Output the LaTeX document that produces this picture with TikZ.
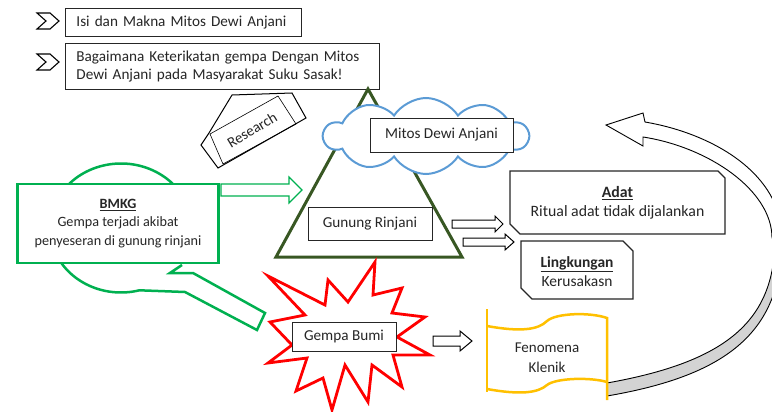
\documentclass[tikz,border=0pt]{standalone}
\usepackage{fontspec}
\setmainfont{Carlito}
\usetikzlibrary{shapes.symbols,calc}
\definecolor{bgreen}{HTML}{00B050}
\definecolor{mgreen}{HTML}{385723}
\definecolor{cblue}{HTML}{5B9BD5}
\definecolor{gold}{HTML}{FFC000}
\definecolor{bandgray}{HTML}{D3D3D3}
\definecolor{ink}{HTML}{262626}
\tikzset{
  pics/barrow/.style args={#1/#2/#3/#4}{code={\draw[pic actions] (0,-#2) -- (#1,-#2) -- (#1,-#4) -- ({#1+#3},0) -- (#1,#4) -- (#1,#2) -- (0,#2) -- cycle;}},
}
\begin{document}
\begin{tikzpicture}[x=1pt,y=-1pt,font=\fontsize{15.2}{17.5}\selectfont, text=ink,
  tbox/.style={draw=black!85, line width=0.9pt, fill=white, inner sep=0pt, align=center},
  chev/.style={draw=black, line width=1.1pt, fill=white, line join=miter},
  sbox/.style={draw=black!85, line width=1.3pt, fill=white, line join=miter},
  gline/.style={draw=gold, line width=2.5pt},
  barr/.style={draw=black, line width=1pt, fill=white, line join=miter},
]
\useasboundingbox (0,0) rectangle (772,412);
\clip (0,0) rectangle (772,412);

% chevrons
\draw[chev] (37,13) -- (50,13) -- (59,21) -- (50,29) -- (37,29) -- (46,21) -- cycle;
\draw[chev] (37,54) -- (50,54) -- (59,62) -- (50,70) -- (37,70) -- (46,62) -- cycle;

\node[tbox, anchor=north west, minimum width=236, minimum height=28, text width=214, align=left, inner xsep=11pt] (isi) at (65,8) {Isi dan Makna Mitos Dewi Anjani};
\node[tbox, anchor=north west, minimum width=314, minimum height=46, text width=292, align=left, inner xsep=11pt] (tanya) at (65,43) {Bagaimana Keterikatan gempa Dengan Mitos\\Dewi Anjani pada Masyarakat Suku Sasak!};

% research plaque
\draw[black, line width=1pt, line join=miter] (232,95) -- (292,93) -- (306,118) -- (218,168) -- (201,145) -- (209,133) -- cycle;
\draw[black, line width=0.6pt] (210,134) -- (278,96) -- (296,124) -- (223,164) -- cycle;
\node[rotate=31, inner sep=0pt, font=\fontsize{15}{16}\selectfont] (research) at (252,130) {Research};

% mountain
\draw[mgreen, line width=3pt, line join=miter] (368,89) -- (462,257) -- (276,257) -- cycle;
\node[cloud, draw=cblue, line width=2pt, fill=white, cloud puffs=10, cloud puff arc=115, aspect=2.8, minimum width=204, minimum height=76] (cloud) at (426,136) {};
\node[tbox, minimum width=143, minimum height=34] (mitos) at (441.5,135) {Mitos Dewi Anjani};
\node[tbox, minimum width=124, minimum height=33] (gunung) at (370,223.5) {Gunung Rinjani};

% magnifier
\draw[bgreen, line width=2.5pt, line join=miter] (121,228) ++(30:71 and 64.5) arc[start angle=30, end angle=-285, x radius=71, y radius=64.5] -- (185,292) -- (257,330) -- (265,313) -- (193,273) -- (170,273) -- (182,265);
\node[draw=bgreen, line width=2.5pt, fill=white, minimum width=201, minimum height=79, align=center, inner sep=0pt, font=\fontsize{14.2}{18.5}\selectfont] (bmkg) at (118,223.5) {\underline{\textbf{BMKG}}\\Gempa terjadi akibat\\penyeseran di gunung rinjani};
\pic[draw=bgreen, line width=1.2pt] at (221,190) {barrow={68/6/13/13}};

% explosion
\draw[red, line width=2.8pt, fill=white, line join=miter, miter limit=6] (268,276) -- (305,315) -- (270,322) -- (292,345) -- (268,363) -- (307,358) -- (296,391) -- (323,378) -- (332,410) -- (345,365) -- (368,402) -- (372,365) -- (402,387) -- (393,355) -- (430,355) -- (397,337) -- (425,317) -- (392,313) -- (402,288) -- (373,295) -- (375,262) -- (348,302) -- (328,280) -- (325,305) -- cycle;
\node[tbox, minimum width=104, minimum height=29] (gempa) at (344,336.5) {Gempa Bumi};

% block arrows
\pic[barr] at (452,224) {barrow={43/4/8/8}};
\pic[barr] at (463,242) {barrow={42/4/9/8}};
\pic[barr] at (433,341) {barrow={27/5/12/10}};

% adat & lingkungan
\draw[sbox] (510,171) -- (718,171) -- (725,178) -- (725,234) -- (520,234) -- (510,224) -- cycle;
\node[align=center, inner sep=0pt, font=\fontsize{15.8}{19}\selectfont] (adat) at (617.5,202.5) {\underline{\textbf{Adat}}\\Ritual adat tidak dijalankan};
\draw[sbox] (521,241) -- (623,241) -- (633,251) -- (633,299) -- (532,299) -- (521,288) -- cycle;
\node[align=center, inner sep=0pt, font=\fontsize{15.5}{19}\selectfont] (ling) at (577,271.5) {\underline{\textbf{Lingkungan}}\\Kerusakasn};

% curved arrow
\draw[black, line width=0.9pt, fill=bandgray] (607,396) .. controls (730,375) and (782,330) .. (782,238) -- (775,238) .. controls (775,322) and (725,362) .. (607,383) -- cycle;
\draw[black, line width=0.9pt, fill=white, line join=miter] (606,125) -- (643,113) -- (645,122) .. controls (715,134) and (782,175) .. (782,238) -- (772,238) .. controls (772,190) and (708,147) .. (643,137) -- (643,146) -- cycle;

% fenomena
\draw[gline] (487,309) -- (487,392);
\draw[gline] (487,326) .. controls (520,332) and (538,330) .. (547,321) .. controls (556,313) and (590,312) .. (607,318) -- (607,400);
\draw[gline] (487,389) .. controls (520,395) and (538,393) .. (547,385) .. controls (556,378) and (590,377) .. (607,382);
\node[align=center, inner sep=0pt, font=\fontsize{15}{20}\selectfont] (fen) at (547,358) {Fenomena\\Klenik};
\end{tikzpicture}
\end{document}
